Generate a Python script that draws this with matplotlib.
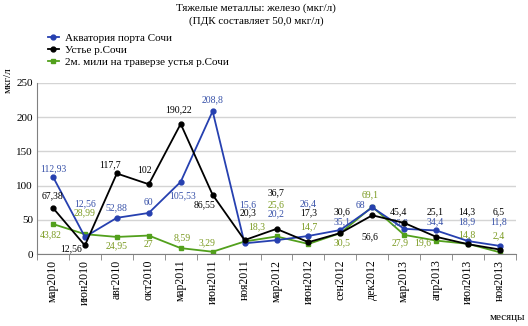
import matplotlib.pyplot as plt
import numpy as np

# ======================
# Daten
# ======================
months = ["мар2010", "июн2010", "авг2010", "окт2010", "мар2011", "июн2011", "ноя2011",
          "мар2012", "июн2012", "сен2012", "дек2012", "мар2013", "апр2013", "июл2013", "ноя2013"]

port = [112.93, 25, 52.88, 60, 105.53, 208.8, 15.6, 20.2, 26.4, 35.1, 68, 36.8, 34.4, 18.9, 11.8]
port_lbl = ["112,93", "12,56", "52,88", "60", "105,53", "208,8", "15,6", "20,2", "26,4",
            "35,1", "68", "36,8", "34,4", "18,9", "11,8"]

mouth = [67.38, 12.56, 117.7, 102, 190.22, 86.55, 20.3, 36.7, 17.3, 30.6, 56.6, 45.4, 25.1, 14.3, 6.5]
mouth_lbl = ["67,38", "12,56", "117,7", "102", "190,22", "86,55", "20,3", "36,7", "17,3",
             "30,6", "56,6", "45,4", "25,1", "14,3", "6,5"]

miles = [43.82, 28.99, 24.95, 27, 8.59, 3.29, 18.3, 25.6, 14.7, 30.5, 69.1, 27.9, 19.6, 14.8, 2.4]
miles_lbl = ["43,82", "28,99", "24,95", "27", "8,59", "3,29", "18,3", "25,6", "14,7",
             "30,5", "69,1", "27,9", "19,6", "14,8", "2,4"]

# Label-Versatz in Pixeln (dx, dy)
port_off = [(0, 8), (0, 33), (0, 10), (0, 10), (2, -14), (0, 11), (3, 39), (0, 26), (0, 32),
            (2, 8), (-12, 2), (-4, 6), (-1, 9), (-1, 19), (-1, 24)]
mouth_off = [(0, 12), (-14, -3), (-7, 9), (-4, 14), (-2, 14), (-8, -10), (3, 27), (0, 36), (0, 29),
             (2, 21), (-2, -21), (-6, 11), (-1, 25), (-1, 32), (-1, 38)]
miles_off = [(-2, -11), (0, 21), (0, -9), (0, -9), (1, 10), (-6, 9), (12, 15), (0, 32), (0, 17),
             (2, -10), (-2, 12), (-4, -8), (-13, -2), (-1, 9), (-1, 17)]

blue = "#2640b0"
green = "#52a01c"
blue_txt = "#3650a8"
green_txt = "#7a9a20"

plt.rcParams["font.family"] = ["Liberation Serif", "DejaVu Serif"]

fig = plt.figure(figsize=(5.28, 3.26), dpi=100)
ax = fig.add_axes([37 / 528, 1 - 254 / 326, (516 - 37) / 528, (254 - 83) / 326])

x = np.arange(len(months))
ax.plot(x, port, color=blue, lw=1.3, marker="o", ms=3.5, label="Акватория порта Сочи", zorder=3)
ax.plot(x, mouth, color="black", lw=1.3, marker="o", ms=3.5, label="Устье р.Сочи", zorder=4)
ax.plot(x, miles, color=green, lw=1.3, marker="s", ms=3.5, label="2м. мили на траверзе устья р.Сочи", zorder=2)

for vals, lbls, offs, col in [(port, port_lbl, port_off, blue_txt),
                              (mouth, mouth_lbl, mouth_off, "black"),
                              (miles, miles_lbl, miles_off, green_txt)]:
    for i, (v, t, o) in enumerate(zip(vals, lbls, offs)):
        ax.annotate(t, (i, v), xytext=o, textcoords="offset pixels",
                    ha="center", va="center", fontsize=7, color=col)

ax.set_xlim(-0.5, len(months) - 0.5)
ax.set_ylim(0, 250)
ax.set_yticks([0, 50, 100, 150, 200, 250])
ax.grid(axis="y", color="#d4d4d4", lw=1)
ax.set_axisbelow(True)

ax.set_xticks(x)
ax.set_xticklabels(months, rotation=90, fontsize=8.5)
ax.set_xticks(np.arange(-0.5, len(months), 1), minor=True)
ax.tick_params(axis="x", which="major", length=0, pad=4)
ax.tick_params(axis="x", which="minor", length=4, color="#808080")
ax.tick_params(axis="y", length=0, labelsize=8, pad=3)

for s in ["top", "right"]:
    ax.spines[s].set_visible(False)
ax.spines["left"].set_color("#808080")
ax.spines["bottom"].set_color("#808080")

fig.text(256 / 528, 1 - 8 / 326, "Тяжелые металлы: железо (мкг/л)", ha="center", va="center", fontsize=8)
fig.text(256 / 528, 1 - 21 / 326, "(ПДК составляет 50,0 мкг/л)", ha="center", va="center", fontsize=8)
fig.text(8 / 528, 1 - 80 / 326, "мкг/л", rotation=90, ha="center", va="center", fontsize=8)
fig.text(507 / 528, 1 - 317 / 326, "месяцы", ha="center", va="center", fontsize=8)

fig.legend(loc="upper left", bbox_to_anchor=(42 / 528, 1 - 28 / 326), frameon=False,
           fontsize=8, handlelength=1.0, handletextpad=0.6, labelspacing=0.2, borderpad=0)

fig.savefig("out.png", dpi=100)
